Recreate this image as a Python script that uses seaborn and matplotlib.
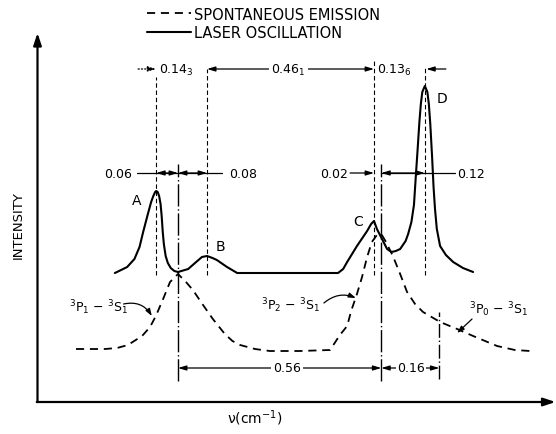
import matplotlib
matplotlib.use("Agg")
import matplotlib.pyplot as plt
import seaborn as sns
import pandas as pd

# ---- data (x in cm^-1 relative to the 3P1-3S1 line, y = relative intensity) ----
laser_x = [-0.174, -0.168, -0.140, -0.120, -0.106, -0.096, -0.083, -0.074, -0.068, -0.063,
           -0.060, -0.056, -0.052, -0.048, -0.045, -0.042, -0.039, -0.034, -0.028, -0.020,
           -0.010, 0.000, 0.028, 0.050, 0.066, 0.080, 0.095, 0.107, 0.135, 0.163, 0.441,
           0.455, 0.466, 0.493, 0.521, 0.532, 0.540, 0.548, 0.562, 0.576, 0.588, 0.600,
           0.612, 0.627, 0.634, 0.643, 0.650, 0.655, 0.660, 0.665, 0.669, 0.673, 0.680,
           0.687, 0.691, 0.695, 0.700, 0.704, 0.708, 0.713, 0.722, 0.738, 0.758, 0.785,
           0.813]
laser_y = [1.29, 1.30, 1.35, 1.43, 1.55, 1.70, 1.88, 2.00, 2.06, 2.10,
           2.11, 2.10, 2.06, 1.98, 1.86, 1.70, 1.58, 1.46, 1.39, 1.34,
           1.31, 1.30, 1.33, 1.40, 1.45, 1.46, 1.44, 1.42, 1.35, 1.29, 1.29,
           1.33, 1.40, 1.56, 1.71, 1.78, 1.81, 1.73, 1.63, 1.53, 1.50, 1.51,
           1.53, 1.61, 1.68, 1.80, 1.97, 2.25, 2.52, 2.80, 2.98, 3.10, 3.16,
           3.10, 2.98, 2.78, 2.45, 2.15, 1.93, 1.73, 1.56, 1.47, 1.40, 1.34,
           1.30]

spont_x = [-0.281, -0.242, -0.201, -0.168, -0.138, -0.099, -0.077, -0.061, -0.041, -0.022,
           0.000, 0.022, 0.041, 0.069, 0.096, 0.129, 0.150, 0.171, 0.212, 0.253, 0.336,
           0.419, 0.446, 0.466, 0.477, 0.493, 0.507, 0.521, 0.534, 0.548, 0.560, 0.573,
           0.592, 0.612, 0.631, 0.653, 0.675, 0.722, 0.769, 0.813, 0.879, 0.928, 0.970]
spont_y = [0.53, 0.53, 0.53, 0.54, 0.57, 0.66, 0.75, 0.86, 1.03, 1.20,
           1.28, 1.20, 1.12, 0.97, 0.83, 0.68, 0.61, 0.57, 0.53, 0.51, 0.51,
           0.52, 0.67, 0.76, 0.91, 1.08, 1.25, 1.45, 1.60, 1.67, 1.68, 1.60,
           1.46, 1.28, 1.10, 0.98, 0.90, 0.80, 0.73, 0.66, 0.56, 0.52, 0.51]

series_labels = ["SPONTANEOUS EMISSION", "LASER OSCILLATION"]

# laser lines A-D and spontaneous-emission lines
peak_names = ["A", "B", "C", "D"]
peak_pos = [-0.06, 0.08, 0.54, 0.68]
trans_pos = [0.0, 0.56, 0.72]   # 3P1, 3P2, 3P0
trans_labels = [r"$^3$P$_1$ $-$ $^3$S$_1$", r"$^3$P$_2$ $-$ $^3$S$_1$", r"$^3$P$_0$ $-$ $^3$S$_1$"]

gap_top = ["0.14$_3$", "0.46$_1$", "0.13$_6$"]
gap_mid = ["0.06", "0.08", "0.02", "0.12"]
gap_bot = ["0.56", "0.16"]

# ---- figure ----
sns.set_theme(style="white")
plt.rcParams["font.family"] = ["DejaVu Sans"]
plt.rcParams["mathtext.default"] = "regular"
plt.rcParams["text.color"] = "black"

fig = plt.figure(figsize=(5.56, 4.35), dpi=100)
ax = fig.add_axes([0, 0, 1, 1])
ax.set_xlim(-178 / 363, 378 / 363)
ax.set_ylim(-0.32, 4.03)
ax.set_axis_off()

df_s = pd.DataFrame({"x": spont_x, "y": spont_y})
df_l = pd.DataFrame({"x": laser_x, "y": laser_y})
sns.lineplot(data=df_s, x="x", y="y", ax=ax, color="black", lw=1.3,
             linestyle=(0, (4.5, 3.2)), label=series_labels[0])
sns.lineplot(data=df_l, x="x", y="y", ax=ax, color="black", lw=1.5,
             label=series_labels[1])

leg = ax.legend(loc="upper left", bbox_to_anchor=(147 / 556, 1 - 7.5 / 435), frameon=False,
                fontsize=10.5, handlelength=3.0, handletextpad=0.2, labelspacing=0.23,
                borderpad=0, borderaxespad=0, labelcolor="black")

# axes arrows
ax_x0 = (37.5 - 178) / 363
ax.annotate("", xy=(ax_x0, 3.69), xytext=(ax_x0, 0), arrowprops=dict(
    arrowstyle="-|>,head_length=0.6,head_width=0.2", lw=1.6, color="black", shrinkA=0, shrinkB=0))
ax.annotate("", xy=(1.040, 0), xytext=(ax_x0 - 0.002, 0), arrowprops=dict(
    arrowstyle="-|>,head_length=0.6,head_width=0.2", lw=1.6, color="black", shrinkA=0, shrinkB=0))
ax.text(-0.441, 1.78, "INTENSITY", rotation=90, ha="center", va="center", fontsize=9.5)
ax.text(0.212, -0.15, "ν(cm$^{-1}$)", ha="center", va="center", fontsize=10)

# vertical dashed lines at laser lines
tops = [3.25, 3.33, 3.43, 3.35]
for p, t in zip(peak_pos, tops):
    ax.plot([p, p], [1.27, t], color="black", lw=0.8, linestyle=(0, (4, 2.5)))
# dash-dot lines at spontaneous lines
ax.plot([trans_pos[0]] * 2, [0.21, 2.38], color="black", lw=1.0, linestyle=(0, (16, 2, 1, 2)))
ax.plot([trans_pos[1]] * 2, [0.21, 2.38], color="black", lw=1.0, linestyle=(0, (16, 2, 1, 2)))
ax.plot([trans_pos[2]] * 2, [0.23, 0.90], color="black", lw=1.0, linestyle=(0, (10, 2, 1, 2)))

# peak letters
ax.text(-0.113, 2.02, peak_names[0], ha="center", va="center", fontsize=10)
ax.text(0.116, 1.56, peak_names[1], ha="center", va="center", fontsize=10)
ax.text(0.496, 1.81, peak_names[2], ha="center", va="center", fontsize=10)
ax.text(0.727, 3.04, peak_names[3], ha="center", va="center", fontsize=10)

AP = dict(color="black", lw=0.9, shrinkA=0, shrinkB=0)
def dim(x0, x1, y, style="<|-|>", ls="-"):
    ax.annotate("", xy=(x1, y), xytext=(x0, y),
                arrowprops=dict(arrowstyle=style + ",head_length=0.4,head_width=0.12",
                                linestyle=ls, **AP))

# top row
yt = 3.33
dim(-0.110, peak_pos[0], yt, "-|>", ":")
ax.text(-0.052, yt, gap_top[0], ha="left", va="center", fontsize=9)
dim(peak_pos[1], peak_pos[2], yt)
ax.text((peak_pos[1] + peak_pos[2]) / 2 - 0.005, yt, gap_top[1], ha="center", va="center",
        fontsize=9, bbox=dict(facecolor="white", edgecolor="none", pad=1.5))
ax.text(0.548, yt, gap_top[2], ha="left", va="center", fontsize=9)
dim(0.738, peak_pos[3] + 0.004, yt, "-|>")

# middle row
ym = 2.29
ax.plot([-0.113, 0.121], [ym, ym], color="black", lw=0.9)
dim(peak_pos[0], trans_pos[0], ym)
dim(trans_pos[0], peak_pos[1], ym)
ax.text(-0.127, ym, gap_mid[0], ha="right", va="center", fontsize=9)
ax.text(0.140, ym, gap_mid[1], ha="left", va="center", fontsize=9)
ax.text(0.468, ym, gap_mid[2], ha="right", va="center", fontsize=9)
dim(0.474, peak_pos[2], ym, "-|>")
ax.plot([trans_pos[1], 0.763], [ym, ym], color="black", lw=0.9)
dim(trans_pos[1], peak_pos[3], ym)
ax.text(0.769, ym, gap_mid[3], ha="left", va="center", fontsize=9)

# bottom row
yb = 0.34
dim(trans_pos[0], trans_pos[1], yb)
ax.text(0.300, yb, gap_bot[0], ha="center", va="center", fontsize=9,
        bbox=dict(facecolor="white", edgecolor="none", pad=1.5))
dim(trans_pos[1], trans_pos[2], yb)
ax.text(0.642, yb, gap_bot[1], ha="center", va="center", fontsize=9,
        bbox=dict(facecolor="white", edgecolor="none", pad=1.0))

# transition labels with pointer arrows
ax.text(-0.218, 0.95, trans_labels[0], ha="center", va="center", fontsize=9)
ax.annotate("", xy=(-0.072, 0.86), xytext=(-0.150, 0.98),
            arrowprops=dict(arrowstyle="-|>,head_length=0.35,head_width=0.12",
                            connectionstyle="arc3,rad=-0.35", **AP))
ax.text(0.309, 0.97, trans_labels[1], ha="center", va="center", fontsize=9)
ax.annotate("", xy=(0.490, 1.04), xytext=(0.402, 0.99),
            arrowprops=dict(arrowstyle="-|>,head_length=0.35,head_width=0.12",
                            connectionstyle="arc3,rad=-0.3", **AP))
ax.text(0.882, 0.93, trans_labels[2], ha="center", va="center", fontsize=9)
ax.annotate("", xy=(0.769, 0.69), xytext=(0.810, 0.83),
            arrowprops=dict(arrowstyle="-|>,head_length=0.35,head_width=0.12", **AP))

fig.savefig("out.png", dpi=100)
